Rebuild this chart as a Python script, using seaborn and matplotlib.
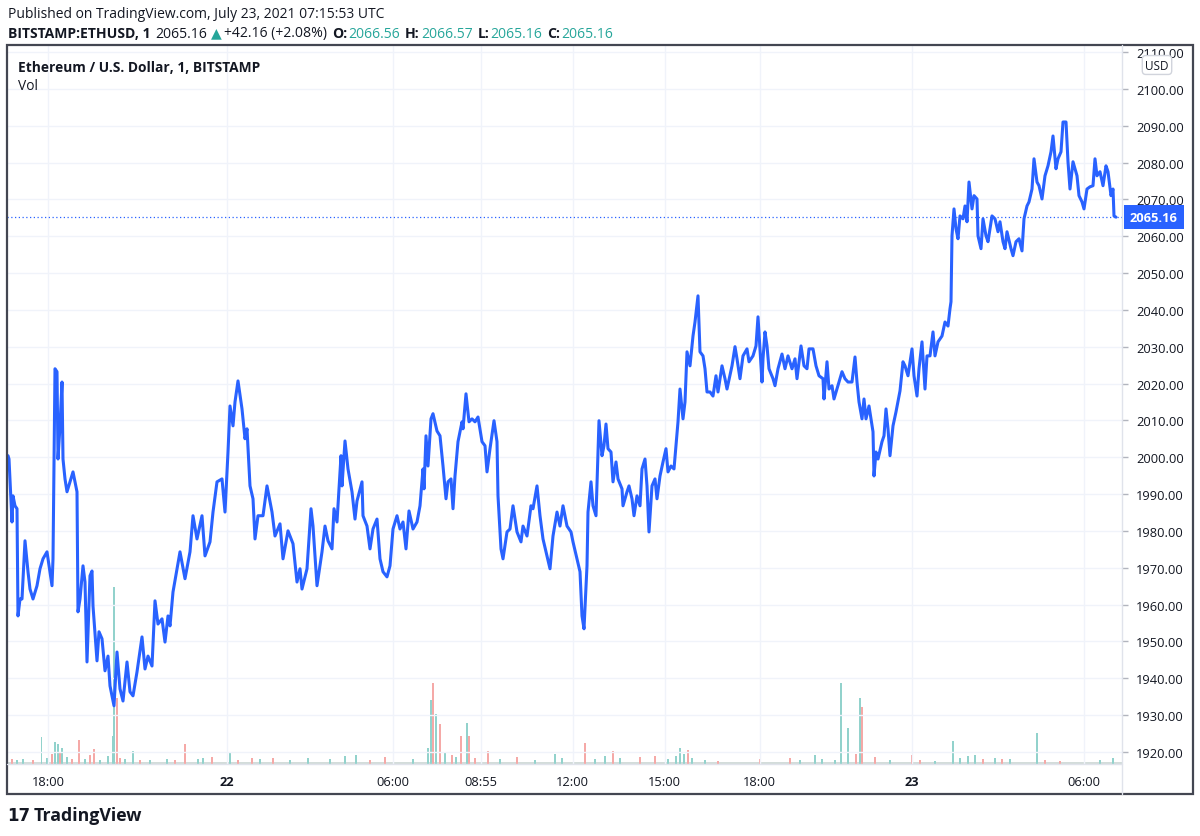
import numpy as np
import pandas as pd
import seaborn as sns
import matplotlib.pyplot as plt
import matplotlib.transforms as mtrans
from matplotlib.patches import Rectangle
from matplotlib.lines import Line2D

# 1-minute bar index (from chart start) and close price
bars = [0, 2, 8, 10, 14, 18, 20, 24, 28, 34, 40, 44, 50, 58, 64, 70, 78, 84, 88, 90,
        94, 98, 100, 104, 108, 110, 114, 118, 124, 130, 138, 140, 144, 150, 154, 158, 164, 168, 170, 178,
        182, 188, 194, 200, 204, 212, 218, 224, 230, 238, 244, 250, 258, 268, 274, 280, 288, 294, 300, 308,
        314, 320, 324, 330, 344, 354, 364, 370, 378, 388, 394, 404, 410, 418, 428, 434, 440, 444, 450, 454,
        460, 468, 474, 478, 484, 490, 494, 500, 510, 518, 528, 534, 544, 550, 560, 570, 578, 584, 588, 598,
        606, 610, 618, 628, 634, 640, 648, 652, 658, 666, 668, 674, 680, 688, 694, 698, 708, 710, 718, 724,
        730, 738, 744, 750, 758, 764, 770, 778, 784, 790, 796, 802, 810, 818, 824, 830, 832, 836, 840, 846,
        850, 858, 864, 870, 876, 880, 886, 890, 894, 900, 908, 910, 916, 922, 928, 934, 940, 948, 954, 958,
        964, 972, 978, 980, 986, 990, 998, 1004, 1010, 1018, 1026, 1030, 1038, 1046, 1050, 1058, 1064, 1070, 1078, 1084,
        1090, 1098, 1104, 1110, 1118, 1126, 1130, 1138, 1144, 1148, 1152, 1158, 1160, 1166, 1170, 1176, 1182, 1188, 1192, 1196,
        1200, 1206, 1210, 1216, 1220, 1228, 1230, 1238, 1242, 1248, 1252, 1258, 1264, 1268, 1274, 1278, 1282, 1288, 1294, 1298,
        1304, 1310, 1316, 1320, 1326, 1332, 1336, 1340, 1344, 1350, 1354, 1358, 1364, 1370, 1374, 1380, 1384, 1390, 1394, 1398,
        1404, 1410, 1416, 1420, 1428, 1434, 1438, 1448, 1454, 1458, 1464, 1470, 1478, 1482, 1490, 1496, 1500, 1504, 1508, 1510,
        1514, 1518, 1522, 1530, 1534, 1540, 1548, 1554, 1560, 1568, 1574, 1578, 1586, 1592, 1598, 1602, 1610, 1616, 1622, 1630,
        1632, 1638, 1642, 1648, 1652, 1658, 1662, 1668, 1674, 1680, 1688, 1694, 1698, 1702, 1708, 1712, 1716, 1722, 1726, 1730,
        1732, 1736, 1740, 1748, 1752, 1756, 1760, 1764, 1770, 1776, 1784, 1790, 1794, 1800, 1808, 1812, 1818, 1822, 1828, 1834,
        1838, 1844, 1850, 1854, 1860, 1868, 1874, 1880, 1884, 1886, 1888, 1892, 1896, 1900, 1904, 1910, 1914, 1918, 1922, 1928,
        1932, 1938, 1940, 1946, 1950, 1956, 1960, 1968, 1974, 1980, 1984, 1990, 1994, 1998, 2006, 2010, 2016, 2022, 2028, 2032,
        2038, 2042, 2048, 2052, 2058, 2062, 2068, 2074, 2080, 2086, 2090, 2096, 2100, 2106, 2110, 2116, 2120, 2124, 2130, 2134,
        2138, 2142, 2148, 2152, 2158, 2164, 2170, 2174, 2178, 2184, 2190, 2196, 2200, 2206, 2210, 2212, 2216]
price = [2000.4, 1999.5, 1982.4, 1989.5, 1986.8, 1986.0, 1956.9, 1961.5, 1961.5, 1977.3, 1968.9, 1964.2, 1961.5, 1965.1, 1969.7, 1972.4, 1974.3, 1968.9, 1965.1, 1972.4,
         2024.0, 2023.2, 1999.5, 2008.5, 2020.4, 1999.5, 1994.1, 1990.6, 1993.3, 1996.0, 1990.6, 1958.0, 1961.5, 1970.5, 1966.1, 1944.4, 1967.8, 1969.1, 1959.6, 1944.7,
         1952.6, 1950.7, 1942.0, 1946.0, 1937.9, 1932.5, 1947.1, 1937.1, 1933.8, 1944.4, 1936.3, 1935.2, 1941.7, 1951.2, 1942.5, 1946.0, 1943.3, 1961.0, 1954.7, 1956.1,
         1949.8, 1956.9, 1954.2, 1963.4, 1974.3, 1967.0, 1974.3, 1984.1, 1977.8, 1984.1, 1973.2, 1977.0, 1985.1, 1993.3, 1994.1, 1985.1, 2001.4, 2013.9, 2008.5, 2015.0,
         2020.7, 2013.1, 2005.0, 2007.7, 1992.2, 1988.7, 1977.8, 1984.1, 1984.1, 1992.2, 1985.1, 1978.6, 1981.9, 1972.4, 1980.0, 1976.5, 1966.1, 1969.7, 1964.2, 1969.7,
         1986.0, 1981.3, 1965.1, 1974.3, 1981.3, 1977.3, 1975.1, 1986.0, 1982.4, 2000.4, 1992.2, 2004.4, 1996.8, 1990.6, 1983.2, 1988.1, 1993.3, 1984.1, 1981.3, 1975.1,
         1980.5, 1983.2, 1972.4, 1968.9, 1967.5, 1970.5, 1980.5, 1984.1, 1980.5, 1982.4, 1975.1, 1985.4, 1980.5, 1982.4, 1986.8, 1996.8, 1991.4, 2005.8, 1997.6, 2010.4,
         2011.8, 2007.1, 2005.8, 1997.6, 1988.7, 1993.3, 1994.1, 1986.0, 1994.9, 2004.2, 2009.6, 2007.7, 2017.2, 2009.6, 2010.4, 2009.6, 2010.9, 2004.2, 2003.1, 1996.0,
         2002.3, 2009.9, 2004.2, 1989.5, 1975.1, 1972.4, 1979.7, 1980.5, 1986.8, 1979.7, 1977.0, 1981.3, 1978.6, 1986.8, 1986.0, 1992.2, 1984.1, 1977.8, 1973.2, 1969.7,
         1978.6, 1985.1, 1981.3, 1986.8, 1981.3, 1979.7, 1977.0, 1972.4, 1968.9, 1956.9, 1953.4, 1970.5, 1985.1, 1993.3, 1986.8, 1984.1, 2009.9, 2000.4, 2003.1, 2009.0,
         2002.3, 2001.4, 1993.3, 1998.7, 1994.1, 1991.4, 1986.8, 1990.6, 1992.2, 1988.7, 1984.1, 1989.5, 1986.8, 1996.8, 1999.5, 1992.2, 1979.7, 1992.2, 1994.1, 1988.7,
         1994.9, 1998.7, 2002.3, 1996.0, 1997.6, 1996.8, 2003.1, 2009.6, 2018.5, 2010.4, 2015.0, 2028.6, 2024.8, 2032.9, 2036.7, 2043.8, 2028.6, 2027.5, 2024.0, 2017.7,
         2017.7, 2016.6, 2022.1, 2017.7, 2024.8, 2021.3, 2018.5, 2024.8, 2030.0, 2026.7, 2021.3, 2027.5, 2029.4, 2025.9, 2027.5, 2030.2, 2038.1, 2029.4, 2020.4, 2026.7,
         2034.0, 2030.2, 2024.0, 2021.3, 2019.4, 2024.0, 2028.0, 2024.0, 2027.5, 2024.0, 2026.7, 2021.3, 2030.2, 2024.8, 2024.0, 2029.4, 2029.4, 2024.8, 2022.1, 2021.3,
         2015.8, 2025.9, 2018.5, 2019.4, 2015.8, 2018.5, 2020.4, 2023.2, 2021.3, 2020.4, 2020.4, 2027.2, 2020.4, 2015.0, 2010.4, 2015.8, 2010.4, 2013.9, 2010.4, 2006.9,
         1994.9, 2001.4, 1999.5, 2004.2, 2005.8, 2013.1, 2007.7, 2000.4, 2008.5, 2012.3, 2018.0, 2025.9, 2024.8, 2022.1, 2029.4, 2022.1, 2016.6, 2024.0, 2031.3, 2018.5,
         2027.5, 2027.5, 2034.0, 2027.5, 2031.3, 2032.9, 2036.7, 2035.6, 2040.3, 2042.2, 2060.1, 2067.4, 2062.0, 2059.3, 2065.5, 2064.7, 2068.2, 2063.9, 2074.7, 2067.4,
         2071.0, 2070.1, 2060.1, 2056.6, 2064.7, 2060.1, 2058.5, 2065.5, 2064.7, 2061.2, 2063.9, 2058.5, 2056.6, 2061.2, 2056.6, 2054.7, 2058.5, 2059.3, 2056.0, 2064.7,
         2068.2, 2069.3, 2072.8, 2081.0, 2074.7, 2073.7, 2070.1, 2076.4, 2079.1, 2082.9, 2087.2, 2078.3, 2081.0, 2082.9, 2091.0, 2091.0, 2080.2, 2072.8, 2080.2, 2078.3,
         2076.4, 2071.0, 2069.3, 2067.4, 2072.8, 2073.4, 2073.7, 2081.0, 2076.4, 2077.5, 2073.7, 2079.1, 2077.5, 2071.0, 2072.8, 2065.5, 2065.16]

# volume bars (bar index, volume, 1 = up bar / 0 = down bar)
vol_bar = [67, 94, 100, 108, 142, 172, 210, 212, 218, 250, 354, 444, 840, 846, 850, 856, 864, 906, 918, 922,
           960, 1154, 1210, 1344, 1360, 1666, 1680, 1704, 1708, 1890, 2058,
           8, 18, 30, 50, 78, 88, 104, 118, 128, 154, 164, 184, 200, 224, 234, 264, 284, 318, 334, 380,
           390, 408, 460, 488, 504, 530, 564, 600, 644, 674, 696, 724, 754, 810, 874, 888, 896, 934, 984, 1018,
           1054, 1094, 1108, 1174, 1194, 1224, 1264, 1294, 1320, 1336, 1352, 1368, 1394, 1420, 1504, 1564, 1584, 1614, 1628, 1654,
           1696, 1734, 1764, 1808, 1824, 1854, 1904, 1920, 1934, 1950, 1974, 1988, 2004, 2074, 2104, 2184, 2210]
vol_size = [108, 88, 80, 64, 96, 60, 112, 708, 264, 52, 80, 48, 64, 256, 324, 200, 160, 112, 164, 112,
            52, 84, 52, 64, 56, 324, 144, 264, 228, 92, 124,
            20, 16, 20, 16, 24, 40, 48, 28, 20, 20, 36, 16, 32, 24, 20, 16, 16, 20, 16, 20,
            24, 28, 16, 24, 20, 24, 16, 24, 20, 32, 36, 16, 28, 20, 48, 36, 28, 24, 20, 28,
            16, 40, 24, 20, 32, 24, 28, 32, 20, 32, 40, 24, 16, 12, 20, 24, 16, 36, 20, 16,
            40, 28, 16, 36, 16, 12, 24, 32, 36, 20, 24, 20, 20, 16, 12, 16, 24]
vol_up = [1, 1, 1, 1, 0, 0, 1, 1, 0, 1, 0, 1, 1, 1, 0, 1, 0, 0, 1, 0,
          0, 0, 0, 1, 0, 1, 1, 1, 0, 1, 1,
          0, 1, 1, 0, 1, 0, 0, 1, 0, 1, 0, 1, 1, 0, 1, 0, 1, 1, 0, 1,
          1, 0, 0, 0, 1, 0, 1, 1, 1, 1, 1, 0, 0, 1, 1, 0, 1, 0, 1, 0,
          1, 1, 1, 1, 1, 1, 0, 0, 1, 1, 1, 1, 1, 0, 0, 0, 1, 1, 1, 1,
          0, 0, 1, 0, 0, 1, 1, 1, 1, 0, 1, 0, 1, 0, 0, 1, 1]

tick_bars = [80, 438, 769, 946, 1129, 1313, 1503, 1807, 2152]
tick_labels = ["18:00", "22", "06:00", "08:55", "12:00", "15:00", "18:00", "23", "06:00"]
price_ticks = list(range(1920, 2111, 10))
last_price = 2065.16

sns.set_style("white")
plt.rcParams['font.family'] = ['Open Sans', 'DejaVu Sans']

W, H = 1200, 837
fig = plt.figure(figsize=(12, 8.37), dpi=100)


def fx(px):
    return px / W


def fy(py):
    return 1 - py / H


rect = [fx(7), fy(765), fx(1122) - fx(7), fy(46) - fy(765)]
vax = fig.add_axes(rect)
ax = fig.add_axes(rect, sharex=vax)
ax.patch.set_alpha(0)

# volume underneath the price line
vdf = pd.DataFrame({"bar": vol_bar, "vol": vol_size, "up": vol_up})
cols = np.where(vdf.up == 1, "#92d2cc", "#f5a9a7")
vax.axhspan(0, 7, color="#d3dcda", lw=0)   # dense strip of tiny bars along the base
vax.bar(vdf.bar, vdf.vol, width=2.2, color=cols, linewidth=0)
vax.set_ylim(0, 2876)
vax.set_yticks([])
for s in vax.spines.values():
    s.set_visible(False)

# price line
df = pd.DataFrame({"bar": bars, "price": price})
sns.lineplot(data=df, x="bar", y="price", ax=ax, color="#2962ff", linewidth=2.2,
             estimator=None, sort=False)
ax.axhline(last_price, color="#2962ff", ls=(0, (1, 2)), lw=0.9)

ax.set_xlim(-2, 2228)
ax.set_ylim(1916.7, 2111.9)
ax.set_xlabel("")
ax.set_ylabel("")
for s in ax.spines.values():
    s.set_visible(False)

ax.set_xticks(tick_bars)
ax.set_xticklabels(tick_labels)
ax.set_yticks(price_ticks)
ax.set_yticklabels([f"{v:.2f}" for v in price_ticks])
ax.yaxis.tick_right()
ax.tick_params(axis="y", direction="out", length=4, width=1, color="#b2b5be",
               labelsize=9.3, labelcolor="#131722", pad=6)
ax.tick_params(axis="x", length=0, labelsize=9.3, labelcolor="#131722", pad=8)
for lab in ax.get_xticklabels():
    if lab.get_text() in ("22", "23"):
        lab.set_fontweight("bold")
ax.grid(True, color="#f0f3fa", linewidth=1)
vax.tick_params(axis="x", length=0, labelbottom=False)

# frame and separators
fig.patches.append(Rectangle((fx(7), fy(795)), fx(1193) - fx(7), fy(46) - fy(795),
                             transform=fig.transFigure, fill=False, ec="#434651", lw=1.6))
fig.lines.append(Line2D([fx(7), fx(1122)], [fy(765), fy(765)], transform=fig.transFigure,
                        color="#e0e3eb", lw=1))
fig.lines.append(Line2D([fx(1122), fx(1122)], [fy(46), fy(795)], transform=fig.transFigure,
                        color="#e0e3eb", lw=1))

# last price tag
tr = mtrans.blended_transform_factory(fig.transFigure, ax.transData)
ax.text(fx(1130), last_price, "2065.16", transform=tr, ha="left", va="center", color="white",
        fontsize=9.3, fontweight="bold", zorder=10,
        bbox=dict(boxstyle="square,pad=0.45", fc="#2962ff", ec="none"))

fig.text(fx(1157), fy(66), "USD", ha="center", va="center", fontsize=8.5, color="#131722",
         bbox=dict(boxstyle="round,pad=0.25,rounding_size=0.3", fc="white", ec="#d1d4dc"))

# header texts
dark = "#131722"
teal = "#26a69a"
fig.text(fx(8), fy(14), "Published on TradingView.com, July 23, 2021 07:15:53 UTC",
         fontsize=10, color=dark, va="center")

renderer = fig.canvas.get_renderer()
parts = [("BITSTAMP:ETHUSD, 1", dark, "bold", 5), ("2065.16", dark, "normal", 3),
         ("▲", teal, "normal", 3), ("+42.16 (+2.08%)", dark, "normal", 5),
         ("O:", dark, "bold", 1), ("2066.56", teal, "normal", 5),
         ("H:", dark, "bold", 1), ("2066.57", teal, "normal", 5),
         ("L:", dark, "bold", 1), ("2065.16", teal, "normal", 5),
         ("C:", dark, "bold", 1), ("2065.16", teal, "normal", 0)]
x = 8
for txt, c, w, gap in parts:
    t = fig.text(fx(x), fy(34), txt, color=c, fontweight=w, fontsize=10.1, va="center")
    bb = t.get_window_extent(renderer=renderer)
    x += bb.width + gap

fig.text(fx(18), fy(68), "Ethereum / U.S. Dollar, 1, BITSTAMP", fontsize=9.9,
         fontweight="bold", color=dark, va="center")
fig.text(fx(18), fy(87), "Vol", fontsize=9.9, color=dark, va="center")

# logo
fig.text(fx(7), fy(816), "17", fontsize=12, fontweight="heavy", color=dark, va="center",
         family="DejaVu Sans")
fig.text(fx(34), fy(816), "TradingView", fontsize=12.8, fontweight="bold", color=dark, va="center")

fig.savefig("out.png", dpi=100)
